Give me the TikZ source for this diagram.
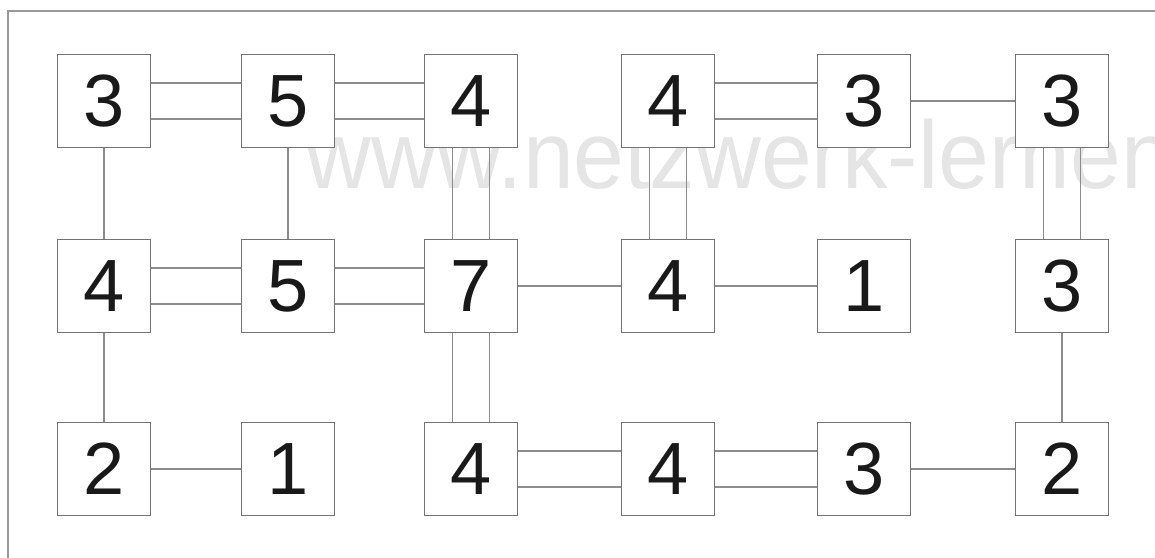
\documentclass[tikz,border=0pt]{standalone}
\usepackage{fontspec}
\setmainfont{Liberation Sans}
\begin{document}
\begin{tikzpicture}[x=1pt,y=-1pt,
  isle/.style={draw=black!55, line width=1.8pt, fill=white, minimum width=93pt, minimum height=93pt, inner sep=0pt, text=black!90, font=\fontsize{74}{74}\selectfont},
  bridge/.style={draw=black!45, line width=1.8pt}]
\useasboundingbox (0,0) rectangle (1155,557);
\clip (0,0) rectangle (1155,557);
\fill[white] (0,0) rectangle (1155,557);
\draw[black!40, line width=2.5pt] (8,11) rectangle (1175,580);
% watermark
\node[anchor=base west, inner sep=0pt, text=black!10, font=\fontsize{96}{96}\selectfont, xscale=0.95] (wm) at (305,188) {www.netzwerk-lernen};
% islands
\foreach \n/\v/\c/\r in {a1/3/104/101, b1/5/288/101, c1/4/471/101, d1/4/668/101, e1/3/864/101, f1/3/1062/101,
                        a2/4/104/286, b2/5/288/286, c2/7/471/286, d2/4/668/286, e2/1/864/286, f2/3/1062/286,
                        a3/2/104/469, b3/1/288/469, c3/4/471/469, d3/4/668/469, e3/3/864/469, f3/2/1062/469}
  \node[isle] (\n) at (\c,\r) {\v};
% single bridges
\foreach \p/\q in {e1/f1, c2/d2, d2/e2, a3/b3, e3/f3}
  \draw[bridge] (\p.east) -- (\q.west);
\foreach \p/\q in {a1/a2, b1/b2, a2/a3, f2/f3}
  \draw[bridge] (\p.south) -- (\q.north);
% double bridges
\foreach \p/\q in {a1/b1, b1/c1, d1/e1, a2/b2, b2/c2, c3/d3, d3/e3}
  {\draw[bridge] ([yshift=18pt]\p.east) -- ([yshift=18pt]\q.west);
   \draw[bridge] ([yshift=-18pt]\p.east) -- ([yshift=-18pt]\q.west);}
\foreach \p/\q in {c1/c2, d1/d2, f1/f2, c2/c3}
  {\draw[bridge] ([xshift=18.5pt]\p.south) -- ([xshift=18.5pt]\q.north);
   \draw[bridge] ([xshift=-18.5pt]\p.south) -- ([xshift=-18.5pt]\q.north);}
\end{tikzpicture}
\end{document}
